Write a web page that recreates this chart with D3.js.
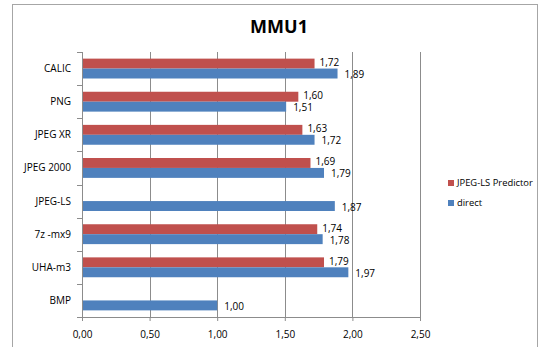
<!DOCTYPE html>
<html>
<head>
<meta charset="utf-8">
<script src="https://cdn.jsdelivr.net/npm/d3@7"></script>
<style>
  body { margin: 0; background: #fff; }
  svg { display: block; }
  text { font-family: "Open Sans", "Liberation Sans", sans-serif; }
</style>
</head>
<body>
<div id="chart"></div>
<script>
// categories top to bottom, as in the picture
const categories = ["CALIC", "PNG", "JPEG XR", "JPEG 2000", "JPEG-LS", "7z -mx9", "UHA-m3", "BMP"];
const predictorValues = [1.72, 1.60, 1.63, 1.69, null, 1.74, 1.79, null];
const directValues = [1.89, 1.51, 1.72, 1.79, 1.87, 1.78, 1.97, 1.00];
const seriesNames = ["JPEG-LS Predictor", "direct"];
const xTicks = [0, 0.5, 1, 1.5, 2, 2.5];

const colors = { "JPEG-LS Predictor": "#C0504D", "direct": "#4F81BD" };

const W = 547, H = 347;
const margin = { top: 52, right: 127, bottom: 30, left: 82 };
const width = W - margin.left - margin.right;
const height = H - margin.top - margin.bottom;

const svg = d3.select("#chart")
    .append("svg")
    .attr("width", W)
    .attr("height", H);

// outer chart border
svg.append("rect")
    .attr("x", 12.5).attr("y", 4.5)
    .attr("width", 525).attr("height", 350)
    .attr("fill", "none")
    .attr("stroke", "#a6a6a6");

svg.append("text")
    .attr("x", 279)
    .attr("y", 33)
    .attr("text-anchor", "middle")
    .style("font-size", "18px")
    .style("font-weight", "bold")
    .text("MMU1");

const g = svg.append("g")
    .attr("transform", `translate(${margin.left},${margin.top})`);

const x = d3.scaleLinear().domain([0, 2.5]).range([0, width]);
const y = d3.scaleBand().domain(categories).range([0, height]).paddingInner(0.4).paddingOuter(0.2);
const sub = d3.scaleBand().domain(seriesNames).range([0, y.bandwidth()]);

// vertical gridlines
g.selectAll(".grid")
    .data(xTicks.slice(1))
    .enter().append("line")
    .attr("x1", d => Math.round(x(d)) + 0.5)
    .attr("x2", d => Math.round(x(d)) + 0.5)
    .attr("y1", 0)
    .attr("y2", height)
    .attr("stroke", "#8c8c8c");

const data = [];
categories.forEach((c, i) => {
    data.push({ cat: c, series: "JPEG-LS Predictor", value: predictorValues[i] });
    data.push({ cat: c, series: "direct", value: directValues[i] });
});
const shown = data.filter(d => d.value != null);

g.selectAll(".bar")
    .data(shown)
    .enter().append("rect")
    .attr("class", "bar")
    .attr("x", 0)
    .attr("y", d => y(d.cat) + sub(d.series))
    .attr("width", d => x(d.value))
    .attr("height", sub.bandwidth())
    .attr("fill", d => colors[d.series]);

g.selectAll(".label")
    .data(shown)
    .enter().append("text")
    .attr("class", "label")
    .attr("x", d => x(d.value) + (d.series === "direct" ? 7 : 5))
    .attr("y", d => y(d.cat) + sub(d.series) + sub.bandwidth() / 2 + (d.series === "direct" ? 1 : -1))
    .attr("dy", "0.35em")
    .style("font-size", "10px")
    .style("fill", "#000")
    .text(d => d.value.toFixed(2).replace(".", ","));

// left axis: line and ticks between categories
const yAxis = g.append("g").attr("class", "y-axis");
yAxis.append("line")
    .attr("x1", 0.5).attr("x2", 0.5)
    .attr("y1", 0).attr("y2", height)
    .attr("stroke", "#8c8c8c");
yAxis.selectAll(".ytick")
    .data(d3.range(categories.length + 1))
    .enter().append("line")
    .attr("x1", -5).attr("x2", 0)
    .attr("y1", i => Math.round(i * height / categories.length) + 0.5)
    .attr("y2", i => Math.round(i * height / categories.length) + 0.5)
    .attr("stroke", "#8c8c8c");
yAxis.selectAll(".ylab")
    .data(categories)
    .enter().append("text")
    .attr("x", -11)
    .attr("y", d => y(d) + y.bandwidth() / 2)
    .attr("dy", "0.35em")
    .attr("text-anchor", "end")
    .style("font-size", "10px")
    .text(d => d);

// bottom axis
const xAxis = g.append("g")
    .attr("transform", `translate(0,${height})`)
    .call(d3.axisBottom(x).tickValues(xTicks).tickSize(4).tickPadding(10)
        .tickFormat(d => d.toFixed(2).replace(".", ",")));
xAxis.select(".domain").attr("stroke", "#8c8c8c");
xAxis.selectAll(".tick line").attr("stroke", "#8c8c8c");
xAxis.selectAll("text").style("font-size", "10px").style("font-family", "'Open Sans', sans-serif");

// legend
const legend = svg.append("g").attr("transform", "translate(448,180)");
seriesNames.forEach((s, i) => {
    const row = legend.append("g").attr("transform", `translate(0,${i * 20})`);
    row.append("rect")
        .attr("width", 6).attr("height", 6)
        .attr("fill", colors[s]);
    row.append("text")
        .attr("x", 9).attr("y", 3)
        .attr("dy", "0.35em")
        .style("font-size", "9.4px")
        .text(s);
});
</script>
</body>
</html>
